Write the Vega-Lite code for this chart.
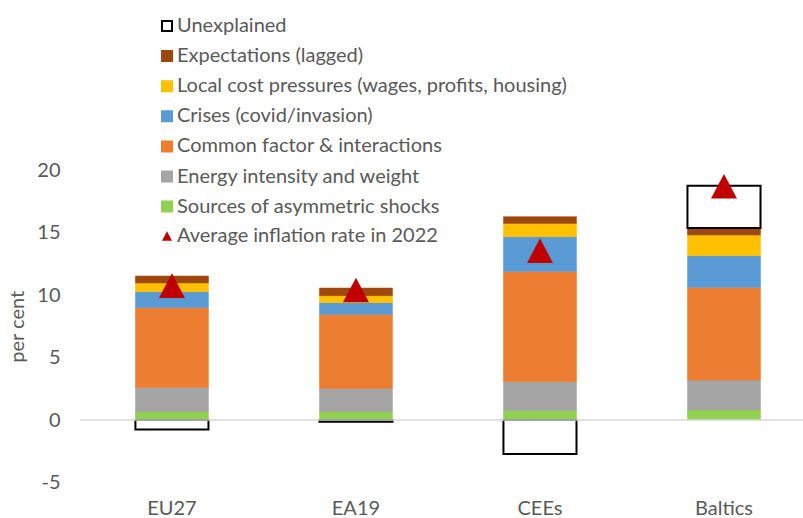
{
  "$schema": "https://vega.github.io/schema/vega-lite/v6.json",
  "width": 723,
  "height": 312.5,
  "autosize": {"type": "none"},
  "padding": {"left": 80, "top": 170, "right": 0, "bottom": 35.5},
  "config": {"view": {"stroke": null}, "font": "Lato", "background": "#ffffff"},
  "datasets": {
    "components": [
      {"region": "EU27", "series": "Sources of asymmetric shocks", "k": 1, "value": 0.67},
      {"region": "EU27", "series": "Energy intensity and weight", "k": 2, "value": 1.94},
      {"region": "EU27", "series": "Common factor & interactions", "k": 3, "value": 6.38},
      {"region": "EU27", "series": "Crises (covid/invasion)", "k": 4, "value": 1.28},
      {"region": "EU27", "series": "Local cost pressures (wages, profits, housing)", "k": 5, "value": 0.69},
      {"region": "EU27", "series": "Expectations (lagged)", "k": 6, "value": 0.56},
      {"region": "EU27", "series": "Unexplained", "k": 7, "value": -0.75},
      {"region": "EA19", "series": "Sources of asymmetric shocks", "k": 1, "value": 0.67},
      {"region": "EA19", "series": "Energy intensity and weight", "k": 2, "value": 1.86},
      {"region": "EA19", "series": "Common factor & interactions", "k": 3, "value": 5.92},
      {"region": "EA19", "series": "Crises (covid/invasion)", "k": 4, "value": 0.94},
      {"region": "EA19", "series": "Local cost pressures (wages, profits, housing)", "k": 5, "value": 0.56},
      {"region": "EA19", "series": "Expectations (lagged)", "k": 6, "value": 0.61},
      {"region": "EA19", "series": "Unexplained", "k": 7, "value": -0.13},
      {"region": "CEEs", "series": "Sources of asymmetric shocks", "k": 1, "value": 0.75},
      {"region": "CEEs", "series": "Energy intensity and weight", "k": 2, "value": 2.32},
      {"region": "CEEs", "series": "Common factor & interactions", "k": 3, "value": 8.82},
      {"region": "CEEs", "series": "Crises (covid/invasion)", "k": 4, "value": 2.78},
      {"region": "CEEs", "series": "Local cost pressures (wages, profits, housing)", "k": 5, "value": 1.06},
      {"region": "CEEs", "series": "Expectations (lagged)", "k": 6, "value": 0.54},
      {"region": "CEEs", "series": "Unexplained", "k": 7, "value": -2.72},
      {"region": "Baltics", "series": "Sources of asymmetric shocks", "k": 1, "value": 0.8},
      {"region": "Baltics", "series": "Energy intensity and weight", "k": 2, "value": 2.4},
      {"region": "Baltics", "series": "Common factor & interactions", "k": 3, "value": 7.41},
      {"region": "Baltics", "series": "Crises (covid/invasion)", "k": 4, "value": 2.54},
      {"region": "Baltics", "series": "Local cost pressures (wages, profits, housing)", "k": 5, "value": 1.65},
      {"region": "Baltics", "series": "Expectations (lagged)", "k": 6, "value": 0.56},
      {"region": "Baltics", "series": "Unexplained", "k": 7, "value": 3.39}
    ],
    "avg": [
      {"region": "EU27", "label": "Average inflation rate in 2022", "value": 10.75},
      {"region": "EA19", "label": "Average inflation rate in 2022", "value": 10.4},
      {"region": "CEEs", "label": "Average inflation rate in 2022", "value": 13.55},
      {"region": "Baltics", "label": "Average inflation rate in 2022", "value": 18.7}
    ]
  },
  "layer": [
    {
      "data": {"name": "components"},
      "mark": {"type": "bar"},
      "encoding": {
        "x": {
          "field": "region", "type": "nominal",
          "sort": ["EU27", "EA19", "CEEs", "Baltics"],
          "scale": {"paddingInner": 0.603, "paddingOuter": 0.266, "align": 0.566},
          "axis": {"title": null, "domain": false, "ticks": false, "labelAngle": 0, "labelFontSize": 20, "labelColor": "#595959", "labelPadding": 16}
        },
        "y": {
          "field": "value", "type": "quantitative", "stack": "zero",
          "scale": {"domain": [-5, 20], "nice": false, "zero": false},
          "axis": {"title": "per cent", "values": [-5, 0, 5, 10, 15, 20], "labelExpr": "'' + datum.value", "domain": false, "ticks": false, "grid": false, "labelFontSize": 20, "labelColor": "#595959", "labelPadding": 20, "titleFontSize": 20, "titleFontWeight": "normal", "titleColor": "#595959", "titlePadding": 9}
        },
        "color": {
          "field": "series", "type": "nominal",
          "scale": {
            "domain": ["Unexplained", "Expectations (lagged)", "Local cost pressures (wages, profits, housing)", "Crises (covid/invasion)", "Common factor & interactions", "Energy intensity and weight", "Sources of asymmetric shocks"],
            "range": ["#ffffff", "#9E480E", "#FFC000", "#5B9BD5", "#ED7D31", "#A5A5A5", "#92D050"]
          },
          "legend": {
            "title": null,
            "orient": "none",
            "legendX": 77,
            "legendY": -154,
            "padding": 0,
            "labelFontSize": 20,
            "labelFont": "Lato",
            "labelColor": "#595959",
            "labelLimit": 600,
            "labelOffset": 0,
            "rowPadding": 10.1,
            "symbolType": "square",
            "symbolSize": 100,
            "symbolStrokeWidth": 2,
            "symbolOpacity": 1
          }
        },
        "stroke": {
          "field": "series", "type": "nominal",
          "scale": {
            "domain": ["Unexplained", "Expectations (lagged)", "Local cost pressures (wages, profits, housing)", "Crises (covid/invasion)", "Common factor & interactions", "Energy intensity and weight", "Sources of asymmetric shocks"],
            "range": ["#000000", "#9E480E", "#FFC000", "#5B9BD5", "#ED7D31", "#A5A5A5", "#92D050"]
          },
          "legend": {
            "title": null,
            "orient": "none",
            "legendX": 77,
            "legendY": -154,
            "padding": 0,
            "labelFontSize": 20,
            "labelFont": "Lato",
            "labelColor": "#595959",
            "labelLimit": 600,
            "labelOffset": 0,
            "rowPadding": 10.1,
            "symbolType": "square",
            "symbolSize": 100,
            "symbolStrokeWidth": 2,
            "symbolOpacity": 1
          }
        },
        "order": {"field": "k", "type": "quantitative"},
        "strokeWidth": {"condition": {"test": "datum.series === 'Unexplained'", "value": 2}, "value": 0.5}
      }
    },
    {
      "data": {"values": [{}]},
      "mark": {"type": "rule", "color": "#D9D9D9", "strokeWidth": 1.5},
      "encoding": {"y": {"datum": 0}}
    },
    {
      "data": {"name": "avg"},
      "mark": {"type": "point", "filled": true, "color": "#C00000", "size": 676, "opacity": 1},
      "encoding": {
        "x": {"field": "region", "type": "nominal", "sort": ["EU27", "EA19", "CEEs", "Baltics"]},
        "y": {"field": "value", "type": "quantitative"},
        "shape": {
          "field": "label", "type": "nominal",
          "scale": {"domain": ["Average inflation rate in 2022"], "range": ["M0,-0.95L1,0.95L-1,0.95Z"]},
          "legend": {
            "title": null,
            "orient": "none",
            "legendX": 77,
            "legendY": 56,
            "padding": 0,
            "labelFontSize": 20,
            "labelFont": "Lato",
            "labelColor": "#595959",
            "labelLimit": 600,
            "labelOffset": 0,
            "symbolSize": 100,
            "symbolFillColor": "#C00000",
            "symbolStrokeWidth": 0,
            "symbolOpacity": 1
          }
        }
      }
    }
  ]
}
